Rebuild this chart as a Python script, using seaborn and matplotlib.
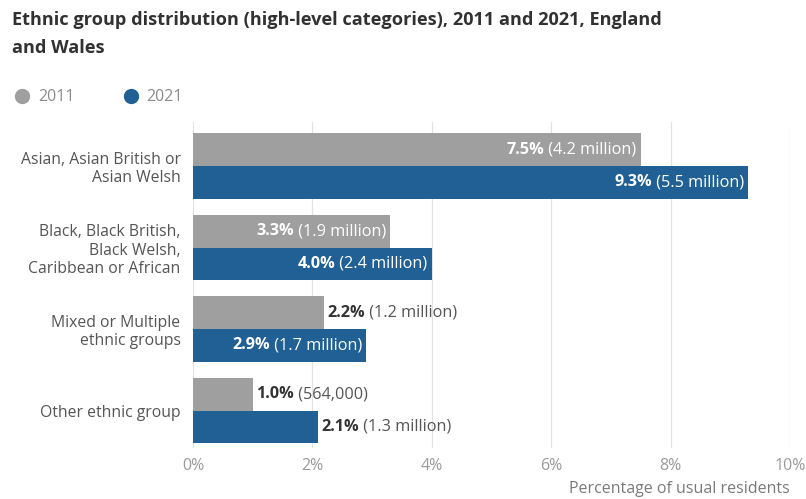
import matplotlib
matplotlib.use("Agg")
import matplotlib.pyplot as plt
import seaborn as sns
import pandas as pd
from matplotlib.lines import Line2D

categories = ["Asian, Asian British or\nAsian Welsh",
              "Black, Black British,\nBlack Welsh,\nCaribbean or African",
              "Mixed or Multiple\nethnic groups",
              "Other ethnic group"]
years = ["2011", "2021"]
pct_2011 = [7.5, 3.3, 2.2, 1.0]
pct_2021 = [9.3, 4.0, 2.9, 2.1]
count_2011 = ["4.2 million", "1.9 million", "1.2 million", "564,000"]
count_2021 = ["5.5 million", "2.4 million", "1.7 million", "1.3 million"]
xticks = [0, 2, 4, 6, 8, 10]
xticklabels = ["0%", "2%", "4%", "6%", "8%", "10%"]

sns.set_theme(style="white")
plt.rcParams['font.family'] = ['Open Sans', 'DejaVu Sans']

GREY = "#a09fa0"
BLUE = "#206095"

df = pd.DataFrame({
    "category": categories * 2,
    "year": ["2011"] * 4 + ["2021"] * 4,
    "pct": pct_2011 + pct_2021,
})

fig = plt.figure(figsize=(8.06, 4.99), dpi=100)
ax = fig.add_axes([0.2395, 0.102, 0.7405, 0.6535])
sns.barplot(data=df, y="category", x="pct", hue="year", hue_order=years,
            palette={"2011": GREY, "2021": BLUE}, orient="h", width=0.8,
            saturation=1, ax=ax, legend=False, linewidth=0)

ax.set_xlim(0, 10)
ax.set_ylim(3.46, -0.54)
ax.set_xticks(xticks)
ax.set_xticklabels(xticklabels, fontsize=11.5, color="#9a9a9a")
ax.tick_params(axis="y", labelsize=11.3, labelcolor="#555555", length=0, pad=9)
ax.tick_params(axis="x", length=0, pad=7)
ax.set_ylabel("")
ax.set_xlabel("Percentage of usual residents", fontsize=11.5, color="#7a7a7a",
              loc="right", labelpad=5)
ax.grid(axis="x", color="#e2e2e2", linewidth=0.9)
ax.set_axisbelow(True)
for s in ax.spines.values():
    s.set_visible(False)
for lbl in ax.get_yticklabels():
    lbl.set_multialignment("right")

pcts = [pct_2011, pct_2021]
counts = [count_2011, count_2021]
fig.canvas.draw()
for ci, cont in enumerate(ax.containers[:2]):
    for i, bar in enumerate(cont):
        w = bar.get_width()
        yc = bar.get_y() + bar.get_height() / 2
        bold = f"{pcts[ci][i]:.1f}%"
        normal = f" ({counts[ci][i]})"
        if w >= 2.5:
            t = ax.annotate(normal, xy=(w, yc), xytext=(-3, 0), textcoords="offset points",
                            ha="right", va="center", fontsize=11.7, color="white")
            ax.annotate(bold, xy=(0, 0.5), xycoords=t, ha="right", va="center",
                        fontsize=11.7, color="white", fontweight="bold")
        else:
            t = ax.annotate(bold, xy=(w, yc), xytext=(2.5, 0), textcoords="offset points",
                            ha="left", va="center", fontsize=11.7, color="#333333",
                            fontweight="bold")
            ax.annotate(normal, xy=(1, 0.5), xycoords=t, ha="left", va="center",
                        fontsize=11.7, color="#555555")

fig.text(0.015, 0.978, "Ethnic group distribution (high-level categories), 2011 and 2021, England\nand Wales",
         fontsize=13.1, fontweight="bold", color="#323132", va="top", ha="left", linespacing=1.7)

handles = [Line2D([], [], marker="o", linestyle="", markersize=10, color=GREY),
           Line2D([], [], marker="o", linestyle="", markersize=10, color=BLUE)]
fig.legend(handles, years, loc="upper left", bbox_to_anchor=(0.0, 0.85), ncol=2,
           frameon=False, fontsize=11.5, labelcolor="#8a8a8a", handletextpad=0.5,
           columnspacing=3.0, handlelength=1.0)

fig.savefig("out.png", dpi=100)
